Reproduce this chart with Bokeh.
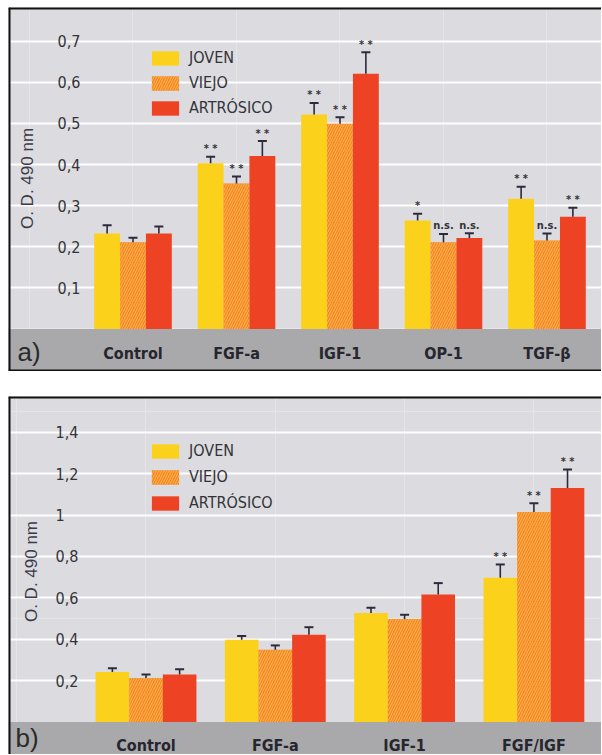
import math
from bokeh.plotting import figure
from bokeh.models import (ColumnDataSource, Range1d, LinearAxis, FixedTicker, Grid,
                          CustomJSTickFormatter, Whisker, TeeHead, BoxAnnotation, Span,
                          Label, Legend, LegendItem)
from bokeh.layouts import column
from bokeh.core.properties import value
from bokeh.embed import file_html
from bokeh.resources import INLINE

# ---------------- data ----------------
series = ["JOVEN", "VIEJO", "ARTRÓSICO"]

cats_a = ["Control", "FGF-a", "IGF-1", "OP-1", "TGF-β"]
joven_a = [0.232, 0.403, 0.522, 0.264, 0.317]
viejo_a = [0.211, 0.354, 0.499, 0.211, 0.215]
artro_a = [0.232, 0.421, 0.621, 0.221, 0.273]
joven_a_err = [0.252, 0.419, 0.550, 0.280, 0.346]
viejo_a_err = [0.222, 0.371, 0.515, 0.231, 0.232]
artro_a_err = [0.249, 0.457, 0.673, 0.233, 0.295]
joven_a_sig = ["", "**", "**", "*", "**"]
viejo_a_sig = ["", "**", "**", "n.s.", "n.s."]
artro_a_sig = ["", "**", "**", "n.s.", "**"]
yticks_a = [0.1, 0.2, 0.3, 0.4, 0.5, 0.6, 0.7]

cats_b = ["Control", "FGF-a", "IGF-1", "FGF/IGF"]
joven_b = [0.241, 0.397, 0.526, 0.697]
viejo_b = [0.213, 0.349, 0.497, 1.014]
artro_b = [0.229, 0.421, 0.616, 1.130]
joven_b_err = [0.260, 0.415, 0.552, 0.761]
viejo_b_err = [0.229, 0.370, 0.518, 1.057]
artro_b_err = [0.255, 0.458, 0.671, 1.220]
joven_b_sig = ["", "", "", "**"]
viejo_b_sig = ["", "", "", "**"]
artro_b_sig = ["", "", "", "**"]
yticks_b = [0.2, 0.4, 0.6, 0.8, 1.0, 1.2, 1.4]

y_label = "O. D. 490 nm"

# ---------------- style ----------------
BG = "#dcdce0"
BAND = "#a9a9ab"
TXT = "#333338"
ERR = "#2b2b3c"
C_JOVEN = "#fbd11b"
C_VIEJO = "#f58220"
C_VIEJO_HATCH = "#fbb04a"
C_ARTRO = "#ee4224"
NARROW = "DejaVu Sans Condensed, Liberation Sans, sans-serif"
REG = "Liberation Sans"


def panel(tag, cats, vals, errs, sigs, yticks, xr, yr, w, h, bar_w,
          yaxis_x, xaxis_y, ylab_xy, tag_xy, legend_loc, spacing, bottom_border):
    p = figure(width=w, height=h, x_range=Range1d(*xr), y_range=Range1d(*yr),
               x_axis_location=None, y_axis_location=None,
               toolbar_location=None, output_backend="svg", min_border=0,
               background_fill_color=BG, border_fill_color=BG,
               outline_line_color=None)

    # grey category band
    p.add_layout(BoxAnnotation(top=0, fill_color=BAND, fill_alpha=1,
                               line_color=None, level="underlay"))
    p.add_layout(Grid(dimension=1, ticker=FixedTicker(ticks=yticks),
                      grid_line_color="white", grid_line_width=2,
                      grid_line_alpha=0.95))

    n = len(cats)
    offsets = [-bar_w, 0.0, bar_w]
    styles = [dict(fill_color=C_JOVEN),
              dict(fill_color=C_VIEJO, hatch_pattern="/", hatch_color=C_VIEJO_HATCH,
                   hatch_scale=5, hatch_weight=1.2),
              dict(fill_color=C_ARTRO)]
    items = []
    for k in range(3):
        src = ColumnDataSource(dict(
            x=[i + offsets[k] for i in range(n)],
            top=vals[k], err=errs[k],
            sig=[s.replace("**", "* *") for s in sigs[k]]))
        r = p.vbar(x="x", top="top", bottom=0, width=bar_w, source=src,
                   line_color=None, **styles[k])
        items.append(LegendItem(label=series[k], renderers=[r]))
        p.add_layout(Whisker(source=src, base="x", lower="top", upper="err",
                             dimension="height", line_color=ERR, line_width=1.6,
                             lower_head=None,
                             upper_head=TeeHead(size=9, line_color=ERR, line_width=2),
                             level="annotation"))
        p.text(x="x", y="err", text="sig", source=src, y_offset=-8,
               text_align="center", text_baseline="middle",
               text_font=value(NARROW), text_font_size="11px", text_color=TXT,
               text_font_style="bold")

    # y axis labels (placed inside the panel)
    yax = LinearAxis(ticker=FixedTicker(ticks=yticks),
                     formatter=CustomJSTickFormatter(
                         code="var s = String(Math.round(tick*10)/10); return s.replace('.', ',');"),
                     fixed_location=yaxis_x, axis_line_color=None,
                     major_tick_line_color=None, minor_tick_line_color=None,
                     major_tick_out=0, major_tick_in=0, minor_tick_out=0, minor_tick_in=0,
                     major_label_standoff=2, major_label_text_font=NARROW,
                     major_label_text_font_size="16px", major_label_text_color=TXT)
    p.add_layout(yax, "right")

    xax = LinearAxis(ticker=FixedTicker(ticks=list(range(n))),
                     formatter=CustomJSTickFormatter(args=dict(names=cats),
                                                     code="return names[Math.round(tick)] || '';"),
                     fixed_location=xaxis_y, axis_line_color=None,
                     major_tick_line_color=None, minor_tick_line_color=None,
                     major_tick_out=0, major_tick_in=0, minor_tick_out=0, minor_tick_in=0,
                     major_label_standoff=2, major_label_text_font=NARROW,
                     major_label_text_font_style="bold",
                     major_label_text_font_size="16px", major_label_text_color="#26262e")
    p.add_layout(xax, "below")

    p.add_layout(Label(x=ylab_xy[0], y=ylab_xy[1], text=y_label, angle=math.pi / 2,
                       text_align="center", text_baseline="middle",
                       text_font=REG, text_font_size="17px", text_color="#3a3a48"))
    p.add_layout(Label(x=tag_xy[0], y=tag_xy[1], text=tag,
                       text_align="left", text_baseline="middle",
                       text_font=REG, text_font_size="26px", text_color="#2a2a2a"))

    legend = Legend(items=items, location=legend_loc, orientation="vertical",
                    glyph_width=34, glyph_height=18, label_height=18,
                    label_standoff=7, spacing=spacing, padding=0, margin=0,
                    border_line_color=None, background_fill_alpha=0,
                    label_text_font=NARROW, label_text_font_size="16px",
                    label_text_color=TXT)
    p.add_layout(legend)

    # black frame lines (left, top, optionally bottom)
    p.add_layout(Span(location=xr[0], dimension="height", line_color="#111111", line_width=4))
    p.add_layout(Span(location=yr[1], dimension="width", line_color="#111111", line_width=4))
    if bottom_border:
        p.add_layout(Span(location=yr[0], dimension="width", line_color="#111111", line_width=4))
    return p


pa = panel("a)", cats_a, [joven_a, viejo_a, artro_a],
           [joven_a_err, viejo_a_err, artro_a_err],
           [joven_a_sig, viejo_a_sig, artro_a_sig], yticks_a,
           xr=(-1.2029, 4.5266), yr=(-0.1037, 0.7822), w=593, h=364, bar_w=0.25,
           yaxis_x=-0.749, xaxis_y=-0.0331, ylab_xy=(-1.019, 0.366),
           tag_xy=(-1.116, -0.0574), legend_loc=(140, 254), spacing=6,
           bottom_border=True)

pb = panel("b)", cats_b, [joven_b, viejo_b, artro_b],
           [joven_b_err, viejo_b_err, artro_b_err],
           [joven_b_sig, viejo_b_sig, artro_b_sig], yticks_b,
           xr=(-1.0634, 3.5228), yr=(-0.157, 1.5725), w=593, h=358, bar_w=0.26,
           yaxis_x=-0.715, xaxis_y=-0.0556, ylab_xy=(-0.886, 0.727),
           tag_xy=(-1.009, -0.0797), legend_loc=(140, 242), spacing=7,
           bottom_border=False)

layout = column(pa, pb, spacing=25, margin=(7, 0, 0, 8))
open("out.html", "w").write(file_html(layout, INLINE))
